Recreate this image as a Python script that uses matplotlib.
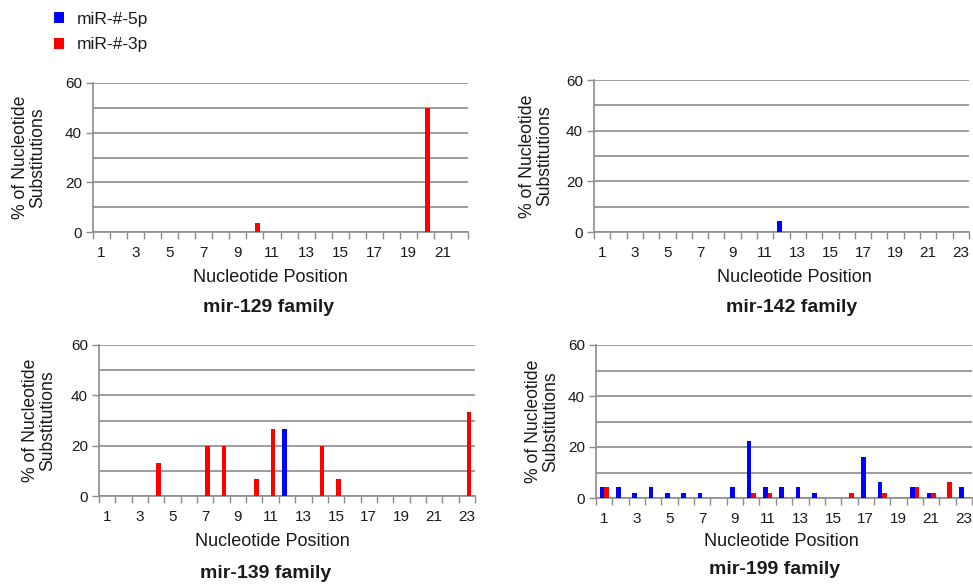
import matplotlib
matplotlib.use("Agg")
import matplotlib.pyplot as plt
import numpy as np
from matplotlib.patches import Patch

plt.rcParams['font.family'] = ['Liberation Sans', 'DejaVu Sans']

W, H = 973, 584

series_names = ["miR-#-5p", "miR-#-3p"]
colors = ["#0000FF", "#FF0000"]

titles = ["mir-129 family", "mir-142 family", "mir-139 family", "mir-199 family"]

mir129_5p = [0]*22
mir129_3p = [0, 0, 0, 0, 0, 0, 0, 0, 0, 3.6, 0, 0, 0, 0, 0, 0, 0, 0, 0, 50, 0, 0]

mir142_5p = [0, 0, 0, 0, 0, 0, 0, 0, 0, 0, 0, 4.5, 0, 0, 0, 0, 0, 0, 0, 0, 0, 0, 0]
mir142_3p = [0]*23

mir139_5p = [0, 0, 0, 0, 0, 0, 0, 0, 0, 0, 0, 26.7, 0, 0, 0, 0, 0, 0, 0, 0, 0, 0, 0]
mir139_3p = [0, 0, 0, 13.3, 0, 0, 20, 20, 0, 6.7, 26.7, 0, 0, 20, 6.7, 0, 0, 0, 0, 0, 0, 0, 33.3]

mir199_5p = [4.3, 4.3, 2.1, 4.3, 2.1, 2.1, 2.1, 0, 4.3, 22.5, 4.3, 4.3, 4.3, 2.1, 0, 0, 15.9, 6.4, 0, 4.3, 2.1, 0, 4.3]
mir199_3p = [4.3, 0, 0, 0, 0, 0, 0, 0, 0, 2.1, 2.1, 0, 0, 0, 0, 2.1, 0, 2.1, 0, 4.3, 2.1, 6.4, 0]

data = [(mir129_5p, mir129_3p), (mir142_5p, mir142_3p),
        (mir139_5p, mir139_3p), (mir199_5p, mir199_3p)]

y_ticks = [0, 20, 40, 60]

# pixel boxes: left, right, top, bottom
boxes = [(93, 468, 83, 232), (594, 969, 80, 232), (99, 475, 345, 496), (596, 972, 345, 498)]
ylabel_x = [29, 536, 39, 542]
xlabel_pos = [(270, 278), (794, 278), (272, 542), (781, 541)]
title_pos = [(269, 307), (792, 307), (266, 573), (775, 569)]

grid_c = "#8c8c8c"
text_c = "#1a1a1a"

fig = plt.figure(figsize=(W/100, H/100), dpi=100)

def fx(x): return x / W
def fy(y): return 1 - y / H

bw = 0.28
for i, (p5, p3) in enumerate(data):
    l, r, t, b = boxes[i]
    ax = fig.add_axes([fx(l), fy(b), (r - l) / W, (b - t) / H])
    n = len(p5)
    x = np.arange(1, n + 1)
    ax.bar(x - bw/2, p5, width=bw, color=colors[0], zorder=3)
    ax.bar(x + bw/2, p3, width=bw, color=colors[1], zorder=3)
    ax.set_xlim(0.5, n + 0.5)
    ax.set_ylim(0, 60)
    ax.set_yticks(y_ticks)
    ax.set_yticks(np.arange(0, 61, 10), minor=True)
    ax.yaxis.grid(True, which='both', color=grid_c, linewidth=1.2)
    ax.set_axisbelow(True)
    ax.tick_params(axis='y', which='major', length=5, color=grid_c, width=1, pad=3,
                   labelsize=11, labelcolor=text_c)
    ax.tick_params(axis='y', which='minor', length=0)
    ax.set_xticks(x[::2])
    ax.set_xticklabels([str(v) for v in x[::2]])
    ax.set_xticks(np.arange(0.5, n + 1, 1), minor=True)
    ax.tick_params(axis='x', which='major', length=0, pad=10, labelsize=11, labelcolor=text_c)
    ax.tick_params(axis='x', which='minor', length=5, color=grid_c, width=1)
    for s in ['top', 'right']:
        ax.spines[s].set_visible(False)
    for s in ['left', 'bottom']:
        ax.spines[s].set_color(grid_c)
        ax.spines[s].set_linewidth(1.2)
    fig.text(fx(ylabel_x[i]), fy((t + b) / 2), "% of Nucleotide\nSubstitutions",
             rotation=90, ha='center', va='center', multialignment='center',
             fontsize=12.7, color=text_c, linespacing=1.05)
    fig.text(fx(xlabel_pos[i][0]), fy(xlabel_pos[i][1]), "Nucleotide Position",
             ha='center', va='center', fontsize=13, color=text_c)
    fig.text(fx(title_pos[i][0]), fy(title_pos[i][1]), titles[i],
             ha='center', va='center', fontsize=14, fontweight='bold', color=text_c)

handles = [Patch(facecolor=c, edgecolor='none') for c in colors]
fig.legend(handles, series_names, loc='upper left', bbox_to_anchor=(fx(54), fy(12)),
           frameon=False, fontsize=12.5, handlelength=0.6, handleheight=0.6,
           handletextpad=0.7, labelspacing=0.6, borderaxespad=0, borderpad=0,
           labelcolor=text_c)

fig.savefig("out.png", dpi=100)
